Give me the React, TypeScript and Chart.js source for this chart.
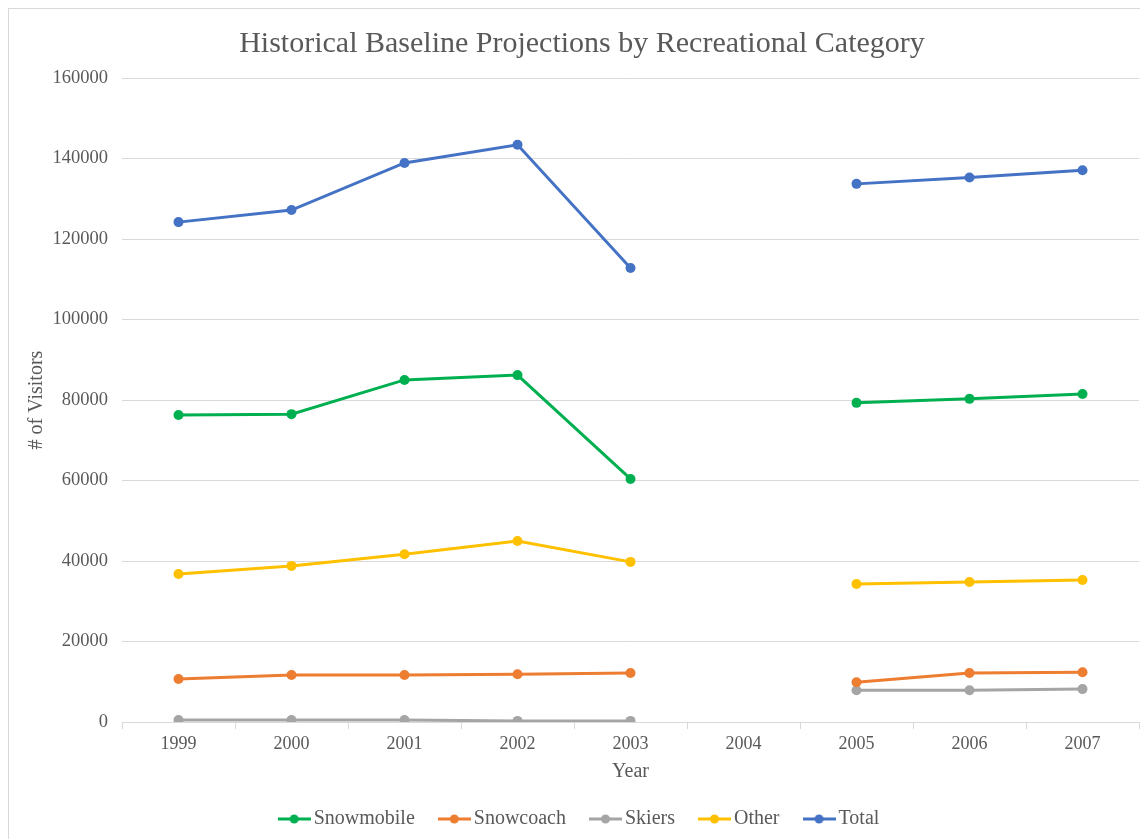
import React, { useEffect, useRef } from "react";
import { Chart, registerables } from "chart.js";

Chart.register(...registerables);

const years = ["1999", "2000", "2001", "2002", "2003", "2004", "2005", "2006", "2007"];
const snowmobile = [76300, 76500, 85000, 86200, 60400, null, 79300, 80300, 81500];
const snowcoach = [10700, 11700, 11700, 11900, 12200, null, 9900, 12200, 12400];
const skiers = [500, 500, 500, 300, 300, null, 7900, 7900, 8200];
const other = [36800, 38800, 41700, 45000, 39800, null, 34300, 34800, 35300];
const total = [124200, 127200, 138900, 143400, 112800, null, 133700, 135300, 137100];

const seriesNames = ["Snowmobile", "Snowcoach", "Skiers", "Other", "Total"];
const seriesColors = ["#00B050", "#ED7D31", "#A5A5A5", "#FFC000", "#4472C4"];
const seriesData = [snowmobile, snowcoach, skiers, other, total];

function makeMarker(color: string): HTMLCanvasElement {
  const c = document.createElement("canvas");
  c.width = 33;
  c.height = 12;
  const ctx = c.getContext("2d")!;
  ctx.strokeStyle = color;
  ctx.lineWidth = 3;
  ctx.beginPath();
  ctx.moveTo(0, 6);
  ctx.lineTo(33, 6);
  ctx.stroke();
  ctx.fillStyle = color;
  ctx.beginPath();
  ctx.arc(16.5, 6, 4.5, 0, Math.PI * 2);
  ctx.fill();
  return c;
}

export default function App() {
  const ref = useRef<HTMLCanvasElement>(null);
  useEffect(() => {
    const markers = seriesColors.map(makeMarker);
    const chart = new Chart(ref.current!, {
      type: "line",
      data: {
        labels: years,
        datasets: seriesNames.map((name, i) => ({
          label: name,
          data: seriesData[i],
          borderColor: seriesColors[i],
          backgroundColor: seriesColors[i],
          borderWidth: 3,
          pointStyle: "circle",
          pointRadius: 5,
          pointHoverRadius: 5,
          pointBorderWidth: 0,
          spanGaps: false,
          tension: 0,
        })),
      },
      options: {
        responsive: false,
        animation: false,
        layout: { padding: { top: 8, right: 9, left: 16, bottom: 0 } },
        plugins: {
          title: {
            display: true,
            text: "Historical Baseline Projections by Recreational Category",
            color: "#595959",
            font: { family: "Liberation Serif", size: 30, weight: "normal" },
            padding: { top: 9, bottom: 16 },
          },
          legend: {
            position: "bottom",
            labels: {
              usePointStyle: true,
              pointStyleWidth: 19,
              color: "#595959",
              font: { family: "Liberation Serif", size: 20 },
              padding: 30,
              generateLabels: () =>
                seriesNames.map((name, i) => ({
                  text: name,
                  fillStyle: seriesColors[i],
                  strokeStyle: seriesColors[i],
                  lineWidth: 0,
                  pointStyle: markers[i],
                  hidden: false,
                  datasetIndex: i,
                  fontColor: "#595959",
                })),
            },
          },
          tooltip: { enabled: false },
        },
        scales: {
          x: {
            offset: true,
            grid: {
              offset: true,
              drawOnChartArea: false,
              drawTicks: true,
              tickLength: 7,
              color: "#d9d9d9",
            },
            border: { display: true, color: "#d9d9d9" },
            ticks: {
              color: "#595959",
              font: { family: "Liberation Serif", size: 18, lineHeight: 1.05 },
              padding: 6,
            },
            title: {
              display: true,
              text: "Year",
              color: "#595959",
              font: { family: "Liberation Serif", size: 20 },
              padding: { top: 0, bottom: -5 },
            },
          },
          y: {
            min: 0,
            max: 160000,
            afterFit: (scale: any) => {
              scale.width = 97;
            },
            ticks: {
              stepSize: 20000,
              color: "#595959",
              font: { family: "Liberation Serif", size: 18.5 },
              padding: 14,
              callback: (v: any) => String(v),
            },
            grid: { color: "#d9d9d9", drawTicks: false },
            border: { display: false },
            title: {
              display: true,
              text: "# of Visitors",
              color: "#595959",
              font: { family: "Liberation Serif", size: 20 },
              padding: { top: 0, bottom: 4 },
            },
          },
        },
      },
    });
    return () => chart.destroy();
  }, []);
  return (
    <div
      style={{
        width: 1140,
        height: 831,
        borderLeft: "1px solid #d9d9d9",
        borderTop: "1px solid #d9d9d9",
        boxSizing: "border-box",
        background: "#fff",
      }}
    >
      <canvas ref={ref} width={1139} height={830} style={{ display: "block" }} />
    </div>
  );
}
